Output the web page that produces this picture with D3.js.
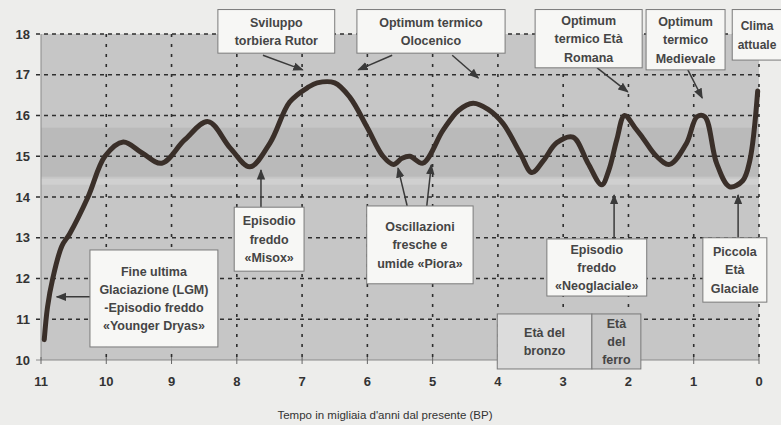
<!DOCTYPE html>
<html lang="it">
<head>
  <meta charset="UTF-8">
  <title>Temperature nell'Olocene</title>
  <script src="https://d3js.org/d3.v7.min.js"></script>
  <style>
    body { margin: 0; background: #ededeb; }
    svg { display: block; font-family: "Liberation Sans", Arial, sans-serif; }
    .tick-label { font-size: 13px; font-weight: bold; fill: #333; }
    .note text { font-size: 12.5px; font-weight: bold; fill: #454545; }
    .note rect { stroke: #7a7a7a; stroke-width: 1; }
  </style>
</head>
<body>
<svg width="781" height="425"></svg>
<script>
  // curve (kyr BP, temperature)
  const years = [10.95, 10.9, 10.82, 10.68, 10.56, 10.28, 10.02, 9.74, 9.45, 9.15, 8.8, 8.44, 8.1, 7.8,
    7.49, 7.19, 6.9, 6.77, 6.5, 6.27, 6.0, 5.76, 5.6, 5.47, 5.35, 5.15, 4.84, 4.6, 4.38, 4.15, 3.92,
    3.66, 3.48, 3.3, 3.1, 2.85, 2.62, 2.41, 2.3, 2.18, 2.06, 1.9, 1.78, 1.57, 1.37, 1.11, 0.95, 0.83,
    0.65, 0.45, 0.25, 0.14, 0.02];
  const temps = [10.5, 11.3, 12.0, 12.8, 13.1, 14.0, 15.0, 15.35, 15.08, 14.83, 15.4, 15.85, 15.2, 14.74,
    15.33, 16.33, 16.7, 16.8, 16.8, 16.45, 15.7, 15.0, 14.8, 14.95, 15.0, 14.83, 15.64, 16.13, 16.3, 16.15, 15.8,
    15.08, 14.6, 14.9, 15.33, 15.47, 14.83, 14.3, 14.66, 15.4, 16.0, 15.7, 15.45, 15.0, 14.8, 15.32, 15.97, 15.97,
    14.83, 14.25, 14.4, 14.9, 16.6];

  const xTicks = [11, 10, 9, 8, 7, 6, 5, 4, 3, 2, 1, 0];
  const yTicks = [10, 11, 12, 13, 14, 15, 16, 17, 18];
  const xTitle = "Tempo in migliaia d'anni dal presente (BP)";

  // annotation boxes in axis units: [t0, t1, v0, v1]
  const notes = [
    { lines: ["Sviluppo", "torbiera Rutor"], box: [8.29, 6.50, 18.6, 17.53],
      arrows: [[7.60, 17.48, 6.99, 17.12]] },
    { lines: ["Optimum termico", "Olocenico"], box: [6.16, 3.89, 18.6, 17.53],
      arrows: [[5.62, 17.48, 6.14, 17.12], [4.70, 17.48, 4.30, 16.92]] },
    { lines: ["Optimum", "termico Età", "Romana"], box: [3.43, 1.79, 18.6, 17.17],
      arrows: [[2.48, 17.17, 2.01, 16.58]] },
    { lines: ["Optimum", "termico", "Medievale"], box: [1.73, 0.52, 18.6, 17.12],
      arrows: [[1.09, 17.12, 0.87, 16.43]] },
    { lines: ["Clima", "attuale"], box: [0.41, -0.6, 18.6, 17.36], arrows: [], textAt: 0.03, size: 12 },
    { lines: ["Episodio", "freddo", "«Misox»"], box: [8.04, 6.97, 13.75, 12.18],
      arrows: [[7.63, 13.75, 7.63, 14.66]] },
    { lines: ["Oscillazioni", "fresche e", "umide  «Piora»"], box: [6.01, 4.38, 13.78, 11.87],
      arrows: [[5.39, 13.78, 5.53, 14.71], [5.09, 13.78, 5.02, 14.79]] },
    { lines: ["Fine ultima", "Glaciazione (LGM)", "-Episodio freddo", "«Younger Dryas»"],
      box: [10.25, 8.29, 12.70, 10.32], arrows: [[10.25, 11.55, 10.76, 11.55]] },
    { lines: ["Episodio", "freddo", "«Neoglaciale»"], box: [3.25, 1.72, 12.97, 11.57],
      arrows: [[2.22, 12.97, 2.22, 14.05]] },
    { lines: ["Piccola", "Età", "Glaciale"], box: [0.86, -0.12, 13.0, 11.42],
      arrows: [[0.32, 13.0, 0.32, 14.05]] },
    { lines: ["Età del", "bronzo"], box: [4.01, 2.56, 11.13, 9.78], arrows: [], fill: "#dcdcdc" },
    { lines: ["Età", "del", "ferro"], box: [2.56, 1.81, 11.13, 9.78], arrows: [], fill: "#c9c9c9" }
  ];

  const svg = d3.select("svg");
  const x = d3.scaleLinear().domain([11, 0]).range([41, 759]);
  const y = d3.scaleLinear().domain([10, 18]).range([360, 34]);

  // plot background with bands
  svg.append("rect").attr("x", x(11)).attr("y", y(18))
    .attr("width", x(0) - x(11)).attr("height", y(10) - y(18)).attr("fill", "#c6c6c6");
  svg.append("rect").attr("x", x(11)).attr("y", y(15.7))
    .attr("width", x(0) - x(11)).attr("height", y(14.5) - y(15.7)).attr("fill", "#bababa");
  svg.append("rect").attr("x", x(11)).attr("y", y(14.45))
    .attr("width", x(0) - x(11)).attr("height", y(14.3) - y(14.45)).attr("fill", "#d0d0d0");

  // grid
  svg.append("g").selectAll("line").data(yTicks.filter(d => d > 10)).join("line")
    .attr("x1", 36).attr("x2", x(0))
    .attr("y1", d => y(d)).attr("y2", d => y(d))
    .attr("stroke", "#2e2e2e").attr("stroke-width", 1.6).attr("stroke-dasharray", "4,4");
  svg.append("g").selectAll("line").data(xTicks.filter(d => d < 11)).join("line")
    .attr("x1", d => x(d)).attr("x2", d => x(d))
    .attr("y1", y(18)).attr("y2", y(10))
    .attr("stroke", "#2e2e2e").attr("stroke-width", 1.6).attr("stroke-dasharray", "3,7");

  // axes
  svg.append("line").attr("x1", x(11)).attr("x2", x(11)).attr("y1", y(18)).attr("y2", y(10))
    .attr("stroke", "#8a8a8a").attr("stroke-width", 1);
  svg.append("line").attr("x1", 36).attr("x2", x(0)).attr("y1", y(10)).attr("y2", y(10))
    .attr("stroke", "#8a8a8a").attr("stroke-width", 1);
  svg.append("g").selectAll("line").data(xTicks).join("line")
    .attr("x1", d => x(d)).attr("x2", d => x(d)).attr("y1", y(10) - 3).attr("y2", y(10) + 4)
    .attr("stroke", "#666");

  svg.append("g").selectAll("text").data(yTicks).join("text")
    .attr("class", "tick-label").attr("x", 30).attr("y", d => y(d)).attr("dy", "0.36em")
    .attr("text-anchor", "end").text(d => d);
  svg.append("g").selectAll("text").data(xTicks).join("text")
    .attr("class", "tick-label").attr("x", d => x(d)).attr("y", 381).attr("dy", "0.36em")
    .attr("text-anchor", "middle").text(d => d);

  svg.append("text").attr("x", 385).attr("y", 419)
    .attr("text-anchor", "middle")
    .style("font-family", "'Liberation Sans Narrow', 'Liberation Sans', Arial, sans-serif")
    .style("font-stretch", "condensed")
    .style("font-size", "11.5px").style("fill", "#333")
    .text(xTitle);

  // curve
  const pts = years.map((t, i) => [t, temps[i]]);
  svg.append("path").datum(pts)
    .attr("fill", "none").attr("stroke", "#3a2f29").attr("stroke-width", 5)
    .attr("stroke-linejoin", "round").attr("stroke-linecap", "round")
    .attr("d", d3.line().x(d => x(d[0])).y(d => y(d[1])).curve(d3.curveCatmullRom.alpha(0.5)));

  // arrow marker
  svg.append("defs").append("marker")
    .attr("id", "head").attr("viewBox", "0 0 10 10").attr("refX", 9).attr("refY", 5)
    .attr("markerWidth", 7).attr("markerHeight", 7).attr("orient", "auto-start-reverse")
    .append("path").attr("d", "M0,1 L10,5 L0,9 Z").attr("fill", "#3a3a3a");

  // annotations
  const note = svg.append("g").selectAll("g").data(notes).join("g").attr("class", "note");
  note.each(function(d) {
    const g = d3.select(this);
    d.arrows.forEach(a => {
      g.append("line")
        .attr("x1", x(a[0])).attr("y1", y(a[1])).attr("x2", x(a[2])).attr("y2", y(a[3]))
        .attr("stroke", "#3a3a3a").attr("stroke-width", 1.5).attr("marker-end", "url(#head)");
    });
    const [t0, t1, v0, v1] = d.box;
    g.append("rect").attr("x", x(t0)).attr("y", y(v0))
      .attr("width", x(t1) - x(t0)).attr("height", y(v1) - y(v0))
      .attr("fill", d.fill || "#f7f7f5");
    const cx = d.textAt !== undefined ? x(d.textAt) : (x(t0) + x(t1)) / 2;
    const lh = 18.3;
    const top = (Math.max(y(v0), 10) + y(v1)) / 2 - lh * (d.lines.length - 1) / 2;
    d.lines.forEach((s, i) => {
      const t = g.append("text").attr("x", cx).attr("y", top + i * lh).attr("dy", "0.36em")
        .attr("text-anchor", "middle").text(s);
      if (d.size) t.style("font-size", d.size + "px");
    });
  });
</script>
</body>
</html>
